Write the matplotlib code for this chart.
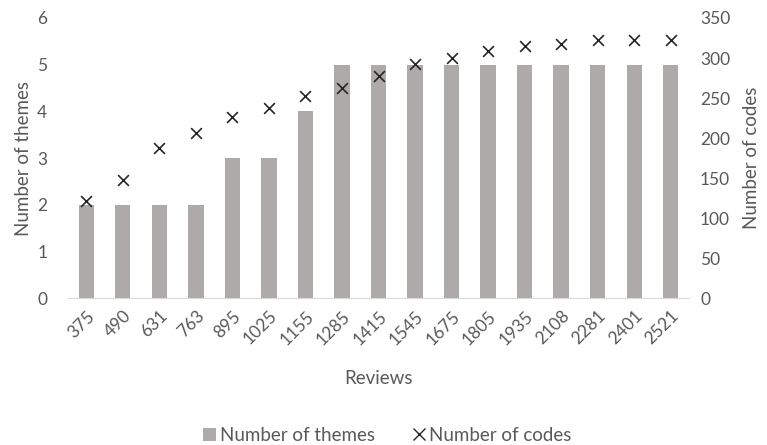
import matplotlib

matplotlib.use('Agg')
import matplotlib.pyplot as plt
import numpy as np
from matplotlib.lines import Line2D
from matplotlib.patches import Patch

reviews = ["375", "490", "631", "763", "895", "1025", "1155", "1285", "1415",
           "1545", "1675", "1805", "1935", "2108", "2281", "2401", "2521"]
themes = [2, 2, 2, 2, 3, 3, 4, 5, 5, 5, 5, 5, 5, 5, 5, 5, 5]
codes = [121, 147, 188, 206, 226, 238, 252, 262, 277,
         293, 300, 309, 315, 317, 323, 323, 323]

plt.rcParams['font.family'] = ['Lato', 'DejaVu Sans']
text_col = '#595959'
bar_col = '#AEAAAA'

fig = plt.figure(figsize=(7.67, 4.45), dpi=100)
ax = fig.add_axes([0.0887, 0.330, 0.8096, 0.6296])
ax2 = ax.twinx()

x = np.arange(len(reviews))
ax.bar(x, themes, width=0.42, color=bar_col, zorder=2)
ax2.scatter(x, codes, marker='x', s=60, color='#262626', linewidths=1.2, zorder=3)

ax.set_xlim(-0.5, len(reviews) - 0.5)
ax.set_ylim(0, 6)
ax2.set_ylim(0, 350)
ax.set_yticks(range(0, 7))
ax2.set_yticks(range(0, 351, 50))
ax.set_xticks(x)
ax.set_xticklabels(reviews, rotation=45, ha='right', rotation_mode='anchor')

for a in (ax, ax2):
    for s in a.spines.values():
        s.set_visible(False)
    a.tick_params(length=0, colors=text_col, labelsize=12.5)
ax.spines['bottom'].set_visible(True)
ax.spines['bottom'].set_color('#D9D9D9')
ax.tick_params(axis='y', pad=15)
ax2.tick_params(axis='y', pad=8)
ax.tick_params(axis='x', pad=7)

ax.set_ylabel('Number of themes', color=text_col, fontsize=13.5, labelpad=4)
ax2.set_ylabel('Number of codes', color=text_col, fontsize=13.5, labelpad=9)
ax.set_xlabel('Reviews', color=text_col, fontsize=13.5, labelpad=16)

handles = [Patch(facecolor=bar_col, label='Number of themes'),
           Line2D([], [], marker='x', color='#262626', linestyle='none',
                  markersize=9, label='Number of codes')]
fig.legend(handles=handles, loc='center', bbox_to_anchor=(0.505, 0.022), ncol=2,
           frameon=False, fontsize=13.5, labelcolor=text_col, handlelength=0.7,
           handletextpad=0.2, columnspacing=2.0)

fig.savefig('out.png', dpi=100)
